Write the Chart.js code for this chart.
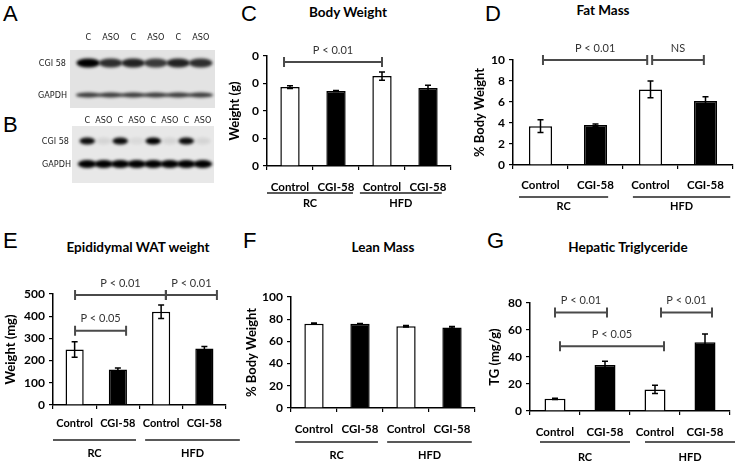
<!DOCTYPE html>
<html>
<head>
<meta charset="utf-8">
<script src="https://cdn.jsdelivr.net/npm/chart.js@4.4.1/dist/chart.umd.min.js"></script>
<style>
  body { margin: 0; background: #fff; width: 736px; height: 461px; overflow: hidden; position: relative; font-family: Lato, sans-serif; }
  canvas { position: absolute; }
  .letter { position: absolute; font: 22px "Liberation Sans", sans-serif; line-height: 1; color: #000; }
  .title { position: absolute; font-weight: bold; font-size: 13.5px; transform: translate(-50%, -50%); white-space: nowrap; color: #000; }
</style>
</head>
<body>
<div class="letter" style="left:3px;top:3px">A</div>
<div class="letter" style="left:3px;top:114px">B</div>
<div class="letter" style="left:241px;top:3px">C</div>
<div class="letter" style="left:485px;top:3px">D</div>
<div class="letter" style="left:3px;top:230px">E</div>
<div class="letter" style="left:243px;top:230px">F</div>
<div class="letter" style="left:487px;top:230px">G</div>

<div class="title" style="left:348px;top:12px">Body Weight</div>
<div class="title" style="left:603px;top:10px">Fat Mass</div>
<div class="title" style="left:138px;top:247px">Epididymal WAT weight</div>
<div class="title" style="left:383px;top:247px">Lean Mass</div>
<div class="title" style="left:628px;top:247px">Hepatic Triglyceride</div>

<canvas id="blots" width="225" height="195" style="left:0;top:0"></canvas>
<canvas id="chartC"></canvas>
<canvas id="chartD"></canvas>
<canvas id="chartE"></canvas>
<canvas id="chartF"></canvas>
<canvas id="chartG"></canvas>

<script>
// ---- data ----
const groups = ['RC', 'HFD'];
const treatments = ['Control', 'CGI-58', 'Control', 'CGI-58'];
const barColors = ['#fff', '#000', '#fff', '#000'];

const bodyWeight = [28.7, 27.3, 32.7, 28.4];
const bodyWeightErr = [0.5, 0.2, 1.5, 1.0];
const fatMass = [3.7, 3.8, 7.2, 6.1];
const fatMassErr = [0.6, 0.1, 0.8, 0.4];
const watWeight = [250, 160, 420, 255];
const watWeightErr = [35, 7, 30, 8];
const leanMass = [76, 75.8, 73.6, 72.6];
const leanMassErr = [0.6, 0.3, 0.7, 0.8];
const hepaticTG = [9, 34, 16, 51];
const hepaticTGErr = [0.4, 2.8, 3, 6];

// western blots: band strength per lane
const lanesA = ['C', 'ASO', 'C', 'ASO', 'C', 'ASO'];
const cgiBandA = [1, 0.8, 0.85, 0.75, 0.85, 0.8];
const gapdhBandA = [0.75, 0.75, 0.75, 0.75, 0.75, 0.75];
const lanesB = ['C', 'ASO', 'C', 'ASO', 'C', 'ASO', 'C', 'ASO'];
const cgiBandB = [0.95, 0.08, 0.95, 0.06, 1, 0.08, 0.95, 0.08];
const gapdhBandB = [1, 1, 1, 1, 1, 1, 1, 1];

Chart.defaults.font.family = 'Lato, sans-serif';
Chart.defaults.color = '#000';

// ---- blots (plain canvas) ----
(function () {
  const ctx = document.getElementById('blots').getContext('2d');
  const small = '9px "Liberation Sans Narrow", "DejaVu Sans Condensed", sans-serif';

  function blot(x, y, w, h, bg, lanes, rows, labelY) {
    ctx.fillStyle = bg;
    ctx.fillRect(x, y, w, h);
    const laneW = (w - 10) / lanes.length;
    ctx.font = small;
    ctx.fillStyle = '#222';
    ctx.textAlign = 'center';
    ctx.textBaseline = 'middle';
    lanes.forEach((l, i) => ctx.fillText(l, x + 7 + (i + 0.5) * laneW, labelY));
    rows.forEach(r => {
      ctx.save();
      ctx.filter = 'blur(1.5px)';
      r.vals.forEach((v, i) => {
        const cx = x + 7 + (i + 0.5) * laneW;
        ctx.fillStyle = 'rgba(0,0,0,' + v + ')';
        ctx.beginPath();
        ctx.ellipse(cx, r.y, laneW * r.wf / 2, r.h / 2, 0, 0, Math.PI * 2);
        ctx.fill();
      });
      ctx.restore();
      ctx.font = small;
      ctx.fillStyle = '#222';
      ctx.textAlign = 'right';
      ctx.fillText(r.name, r.lx, r.y + 1);
    });
  }

  blot(70, 50, 145, 58, '#e3e3e3', lanesA, [
    { name: 'CGI 58', vals: cgiBandA, y: 63, h: 9, wf: 1.05, lx: 66 },
    { name: 'GAPDH', vals: gapdhBandA, y: 95, h: 5, wf: 1.1, lx: 67 }
  ], 38);
  blot(72, 126, 142, 57, '#e8e8e8', lanesB, [
    { name: 'CGI 58', vals: cgiBandB, y: 141, h: 7, wf: 0.95, lx: 69 },
    { name: 'GAPDH', vals: gapdhBandB, y: 164, h: 8, wf: 1.15, lx: 71 }
  ], 121);
})();

// ---- error bars, brackets, group labels ----
const notes = {
  id: 'notes',
  afterDraw(chart, args, o) {
    const { ctx, scales: { x, y } } = chart;
    const vals = chart.data.datasets[0].data;
    ctx.save();
    // error bars
    ctx.strokeStyle = '#000';
    ctx.lineWidth = 1.5;
    vals.forEach((v, i) => {
      const cx = x.getPixelForValue(i);
      const t = y.getPixelForValue(v + o.errors[i]);
      const b = y.getPixelForValue(v - o.errors[i]);
      ctx.beginPath();
      ctx.moveTo(cx, t); ctx.lineTo(cx, b);
      ctx.moveTo(cx - 3, t); ctx.lineTo(cx + 3, t);
      ctx.moveTo(cx - 3, b); ctx.lineTo(cx + 3, b);
      ctx.stroke();
    });
    // significance brackets
    o.brackets.forEach(br => {
      const x1 = x.getPixelForValue(br.from), x2 = x.getPixelForValue(br.to);
      const py = y.getPixelForValue(br.y);
      ctx.strokeStyle = '#4a4a4a';
      ctx.lineWidth = 2;
      ctx.beginPath();
      ctx.moveTo(x1, py); ctx.lineTo(x2, py);
      ctx.moveTo(x1, py - 5); ctx.lineTo(x1, py + 5);
      ctx.moveTo(x2, py - 5); ctx.lineTo(x2, py + 5);
      ctx.stroke();
      ctx.fillStyle = '#333';
      ctx.font = '11px Lato, sans-serif';
      ctx.textAlign = 'center';
      ctx.textBaseline = 'middle';
      ctx.fillText(br.text, (x1 + x2) / 2, py - 12);
    });
    // group underline + label
    o.groupSpans.forEach((s, i) => {
      const x1 = x.getPixelForValue(s[0]), x2 = x.getPixelForValue(s[1]);
      const ly = y.bottom + o.lineOff;
      ctx.strokeStyle = '#222';
      ctx.lineWidth = 1.5;
      ctx.beginPath();
      ctx.moveTo(x1, ly); ctx.lineTo(x2, ly);
      ctx.stroke();
      ctx.fillStyle = '#000';
      ctx.font = 'bold 11px Lato, sans-serif';
      ctx.textAlign = 'center';
      ctx.textBaseline = 'middle';
      ctx.fillText(groups[i], (x1 + x2) / 2, y.bottom + o.textOff);
    });
    ctx.restore();
  }
};

function panel(id, p) {
  const cv = document.getElementById(id);
  cv.width = p.box.w;
  cv.height = p.box.h;
  cv.style.left = p.box.x + 'px';
  cv.style.top = p.box.y + 'px';
  const yW = p.area.l - p.box.x;
  const xH = p.box.y + p.box.h - p.area.b;
  new Chart(cv, {
    type: 'bar',
    data: {
      labels: treatments,
      datasets: [{
        data: p.values,
        backgroundColor: barColors,
        borderColor: '#000',
        borderWidth: 1.5,
        borderSkipped: 'start',
        barPercentage: 0.42,
        categoryPercentage: 1
      }]
    },
    options: {
      responsive: false,
      animation: false,
      events: [],
      layout: { padding: { top: p.area.t - p.box.y, right: p.box.x + p.box.w - p.area.r, left: 0, bottom: 0 } },
      plugins: {
        legend: { display: false },
        tooltip: { enabled: false },
        notes: { errors: p.errors, brackets: p.brackets, groupSpans: p.spans, lineOff: p.lineOff, textOff: p.textOff }
      },
      scales: {
        x: {
          grid: { display: true, drawOnChartArea: false, tickLength: 4, color: '#000', lineWidth: 1.2 },
          border: { color: '#000', width: 1.5 },
          ticks: { font: { weight: 'bold', size: p.xFont || 11.5 }, color: '#000', padding: p.xPad, maxRotation: 0, minRotation: 0, autoSkip: false },
          afterFit(s) { s.height = xH; }
        },
        y: {
          min: 0,
          max: p.max,
          ticks: { stepSize: p.step, font: { weight: 'bold', size: 12 }, color: '#000', padding: 4, callback: p.tick || (v => v) },
          title: { display: true, text: p.yTitle, font: { weight: 'bold', size: 13 }, padding: 0, color: '#000' },
          grid: { display: true, drawOnChartArea: false, tickLength: 4, color: '#000', lineWidth: 1.2 },
          border: { color: '#000', width: 1.5 },
          afterFit(s) { s.width = yW; }
        }
      }
    },
    plugins: [notes]
  });
}

panel('chartC', {
  box: { x: 227, y: 30, w: 243, h: 180 },
  area: { l: 267, r: 451, t: 56, b: 166 },
  values: bodyWeight, errors: bodyWeightErr,
  max: 40, step: 10, yTitle: 'Weight (g)',
  tick: v => String(v).slice(-1),   // tens digit is cropped off in the figure
  brackets: [{ from: -0.13, to: 2.0, y: 37.8, text: 'P < 0.01' }],
  spans: [[-0.5, 1.37], [1.52, 3.3]],
  xPad: 10, lineOff: 27, textOff: 37
});

panel('chartD', {
  box: { x: 472, y: 30, w: 264, h: 185 },
  area: { l: 513, r: 733, t: 60, b: 165 },
  values: fatMass, errors: fatMassErr,
  max: 10, step: 2, yTitle: '% Body Weight',
  brackets: [
    { from: 0.045, to: 1.94, y: 10, text: 'P < 0.01' },
    { from: 2.03, to: 2.97, y: 10, text: 'NS' }
  ],
  spans: [[-0.39, 1.23], [1.68, 3.45]],
  xPad: 9, lineOff: 32, textOff: 41
});

panel('chartE', {
  box: { x: 3, y: 270, w: 242, h: 191 },
  area: { l: 53, r: 226, t: 294, b: 405 },
  values: watWeight, errors: watWeightErr,
  max: 500, step: 100, yTitle: 'Weight (mg)',
  brackets: [
    { from: 0.01, to: 1.19, y: 335, text: 'P < 0.05' },
    { from: 0.01, to: 2.11, y: 495, text: 'P < 0.01' },
    { from: 2.11, to: 3.29, y: 495, text: 'P < 0.01' }
  ],
  spans: [[-0.5, 1.42], [1.63, 3.82]],
  xPad: 8, lineOff: 35, textOff: 48, xFont: 11
});

panel('chartF', {
  box: { x: 244, y: 270, w: 246, h: 191 },
  area: { l: 291, r: 475, t: 297, b: 408 },
  values: leanMass, errors: leanMassErr,
  max: 100, step: 20, yTitle: '% Body Weight',
  brackets: [],
  spans: [[-0.41, 1.39], [1.59, 3.43]],
  xPad: 10, lineOff: 34, textOff: 47
});

panel('chartG', {
  box: { x: 487, y: 270, w: 249, h: 191 },
  area: { l: 530, r: 730, t: 303, b: 411 },
  values: hepaticTG, errors: hepaticTGErr,
  max: 80, step: 20, yTitle: 'TG (mg/g)',
  brackets: [
    { from: 0, to: 1.04, y: 73, text: 'P < 0.01' },
    { from: 2.12, to: 3.14, y: 73, text: 'P < 0.01' },
    { from: 0.1, to: 2.18, y: 48, text: 'P < 0.05' }
  ],
  spans: [[-0.3, 1.5], [1.8, 3.6]],
  xPad: 10, lineOff: 31, textOff: 46
});
</script>
</body>
</html>
